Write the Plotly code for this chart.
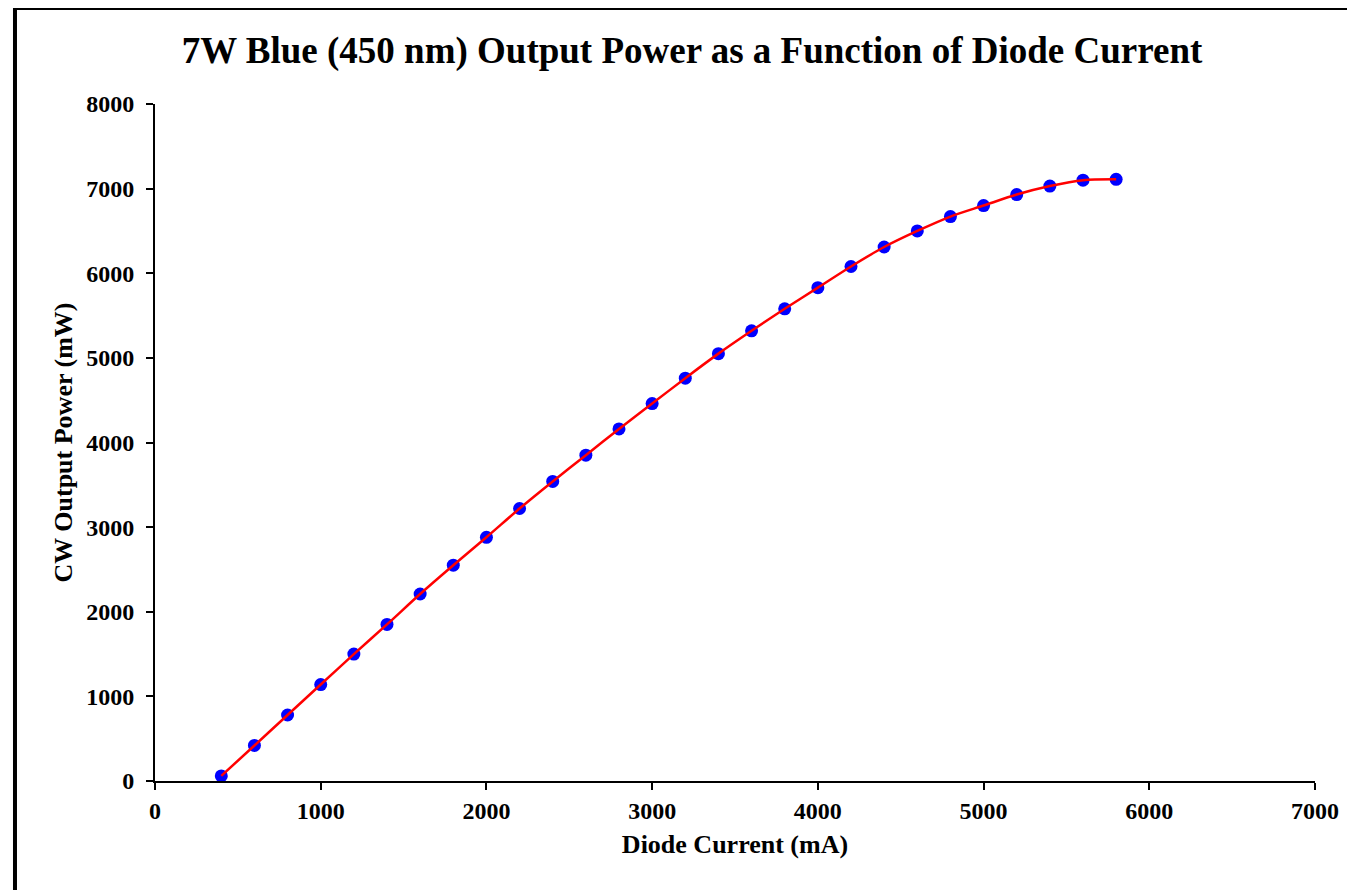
import plotly.graph_objects as go

current_ma = [400, 600, 800, 1000, 1200, 1400, 1600, 1800, 2000, 2200, 2400, 2600, 2800, 3000,
              3200, 3400, 3600, 3800, 4000, 4200, 4400, 4600, 4800, 5000, 5200, 5400, 5600, 5800]
power_mw = [60, 420, 780, 1140, 1500, 1850, 2210, 2550, 2880, 3220, 3540, 3850, 4160, 4460,
            4760, 5050, 5320, 5580, 5830, 6080, 6310, 6500, 6670, 6800, 6930, 7030, 7100, 7110]

title_text = "7W Blue (450 nm) Output Power as a Function of Diode Current"
x_title = "Diode Current (mA)"
y_title = "CW Output Power (mW)"

FONT = "Liberation Serif, Times New Roman, serif"

fig = go.Figure()
fig.add_trace(go.Scatter(x=current_ma, y=power_mw, mode="markers",
                         marker=dict(color="#0000FF", size=13), showlegend=False))
fig.add_trace(go.Scatter(x=current_ma, y=power_mw, mode="lines",
                         line=dict(color="#FF0000", width=2.5, shape="spline", smoothing=0.8),
                         showlegend=False))

fig.update_layout(
    width=1355, height=890,
    margin=dict(l=147, r=48, t=96, b=117),
    paper_bgcolor="white", plot_bgcolor="white",
    font=dict(family=FONT, color="black"),
    title=dict(text="<b>" + title_text + "</b>", x=684 / 1355, xanchor="center",
               xref="container", y=1 - 42 / 890, yanchor="middle", yref="container",
               font=dict(size=37, family=FONT, color="black")),
    xaxis=dict(range=[0, 7000], tick0=0, dtick=1000, showgrid=False, zeroline=False,
               showline=True, linecolor="black", linewidth=2,
               ticks="outside", ticklen=7, tickwidth=2, tickcolor="black",
               tickfont=dict(size=24, family=FONT, color="black"),
               tickprefix="<b>", ticksuffix="</b>",
               title=dict(text="<b>" + x_title + "</b>", font=dict(size=26, family=FONT), standoff=12)),
    yaxis=dict(range=[0, 8000], tick0=0, dtick=1000, showgrid=False, zeroline=False,
               showline=True, linecolor="black", linewidth=2,
               ticks="outside", ticklen=7, tickwidth=2, tickcolor="black",
               ticklabelstandoff=7,
               tickfont=dict(size=24, family=FONT, color="black"),
               tickprefix="<b>", ticksuffix="</b>",
               title=dict(text="<b>" + y_title + "</b>", font=dict(size=26, family=FONT), standoff=6)),
    shapes=[
        dict(type="line", xref="paper", yref="paper", x0=-0.1207, x1=1.2, y0=1.1418, y1=1.1418,
             line=dict(color="black", width=4)),
        dict(type="line", xref="paper", yref="paper", x0=-0.1207, x1=-0.1207, y0=1.1418, y1=-0.3,
             line=dict(color="black", width=4)),
    ],
)

fig.write_html("out.html")
